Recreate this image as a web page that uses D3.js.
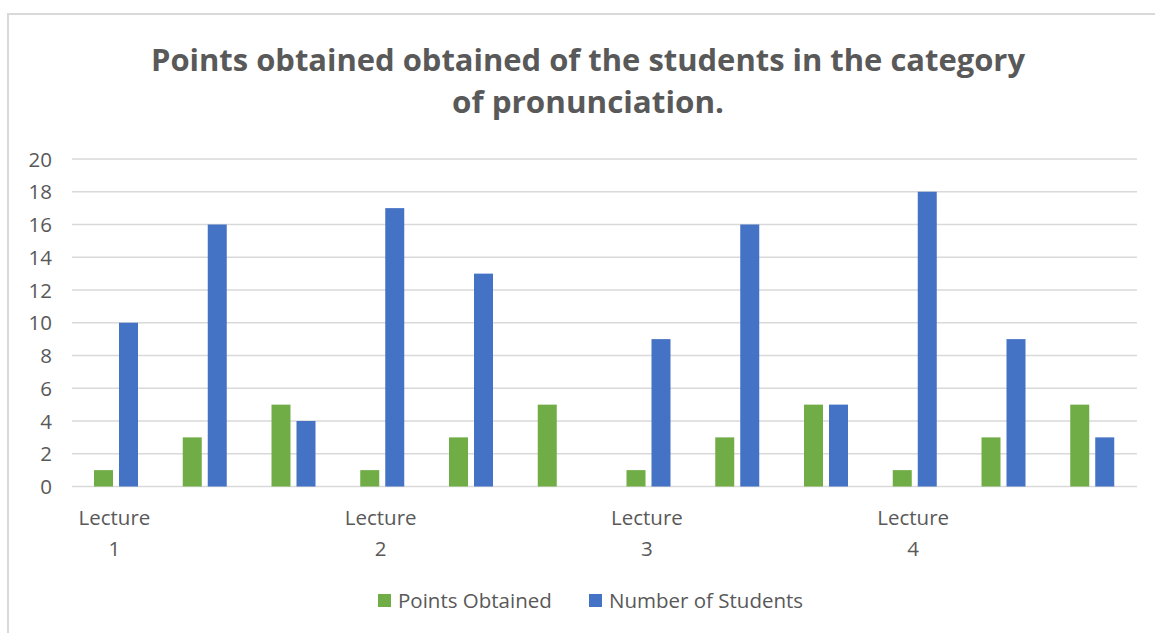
<!DOCTYPE html>
<html><head><meta charset="utf-8">
<script src="https://cdn.jsdelivr.net/npm/d3@7"></script>
<style>body{margin:0;background:#fff}svg{display:block}</style>
</head><body>
<svg id="c" width="1155" height="633"></svg>
<script>
const categories = ["Lecture 1","","","Lecture 2","","","Lecture 3","","","Lecture 4","",""];
const pointsObtained = [1,3,5,1,3,5,1,3,5,1,3,5];
const numberOfStudents = [10,16,4,17,13,0,9,16,5,18,9,3];
const yTicks = [0,2,4,6,8,10,12,14,16,18,20];
const seriesNames = ["Points Obtained","Number of Students"];
const colors = ["#70ad47","#4472c4"];
const titleLines = ["Points obtained obtained of the students in the category","of pronunciation."];

(function(){
const svg = d3.select("#c");
const font = "'Open Sans', 'Noto Sans', sans-serif";
const grey = "#595959";
const fs = 20.5;

// frame
svg.append("path").attr("d","M8,633 V14 H1155").attr("fill","none").attr("stroke","#d9d9d9").attr("stroke-width",2);

const pL = 72, pR = 1137, pT = 159, pB = 486.5;
const x = d3.scaleBand().domain(d3.range(categories.length)).range([pL,pR]).paddingInner(0).paddingOuter(0);
const y = d3.scaleLinear().domain([0,20]).range([pB,pT]);

// gridlines
svg.append("g").selectAll("line").data(yTicks).join("line")
  .attr("x1",pL).attr("x2",pR).attr("y1",d=>y(d)).attr("y2",d=>y(d))
  .attr("stroke","#d9d9d9").attr("stroke-width",1.5);

// y axis labels
const yAxis = d3.axisLeft(y).tickValues(yTicks).tickSize(0).tickPadding(0);
const ga = svg.append("g").attr("transform",`translate(52,0)`).call(yAxis);
ga.select(".domain").remove();
ga.selectAll("text").attr("font-family",font).attr("font-size",fs).attr("fill",grey).attr("dy","0.35em");

// bars
const bw = x.bandwidth();
const barW = bw*19/88.75;
const offs = [bw*22/88.75, bw*47/88.75];
[pointsObtained, numberOfStudents].forEach((vals,si)=>{
  svg.append("g").selectAll("rect").data(vals).join("rect")
    .attr("x",(d,i)=>x(i)+offs[si]).attr("width",barW)
    .attr("y",d=>y(d)).attr("height",d=>pB-y(d))
    .attr("fill",colors[si]);
});

// category labels
const gx = svg.append("g");
categories.forEach((c,i)=>{
  if(!c) return;
  const parts = c.split(" ");
  const cx = x(i)+bw/2 - 2;
  const t = gx.append("text").attr("x",cx).attr("text-anchor","middle")
    .attr("font-family",font).attr("font-size",fs).attr("fill",grey);
  t.append("tspan").attr("x",cx).attr("y",525).text(parts[0]);
  t.append("tspan").attr("x",cx).attr("y",556).text(parts[1]);
});

// title
titleLines.forEach((s,i)=>{
  const t = svg.append("text").attr("x",588).attr("y",[71,113][i]).attr("text-anchor","middle")
    .attr("font-family",font).attr("font-weight","bold").attr("font-size",30).attr("fill",grey)
    .text(s);
  t.attr("textLength",[874,272][i]).attr("lengthAdjust","spacingAndGlyphs");
});

// legend
const lg = svg.append("g");
const lx = [378, 589];
seriesNames.forEach((n,i)=>{
  lg.append("rect").attr("x",lx[i]).attr("y",594).attr("width",13).attr("height",13).attr("fill",colors[i]);
  lg.append("text").attr("x",lx[i]+20).attr("y",608).attr("font-family",font).attr("font-size",fs).attr("fill",grey).text(n);
});
})();
</script>
</body></html>
